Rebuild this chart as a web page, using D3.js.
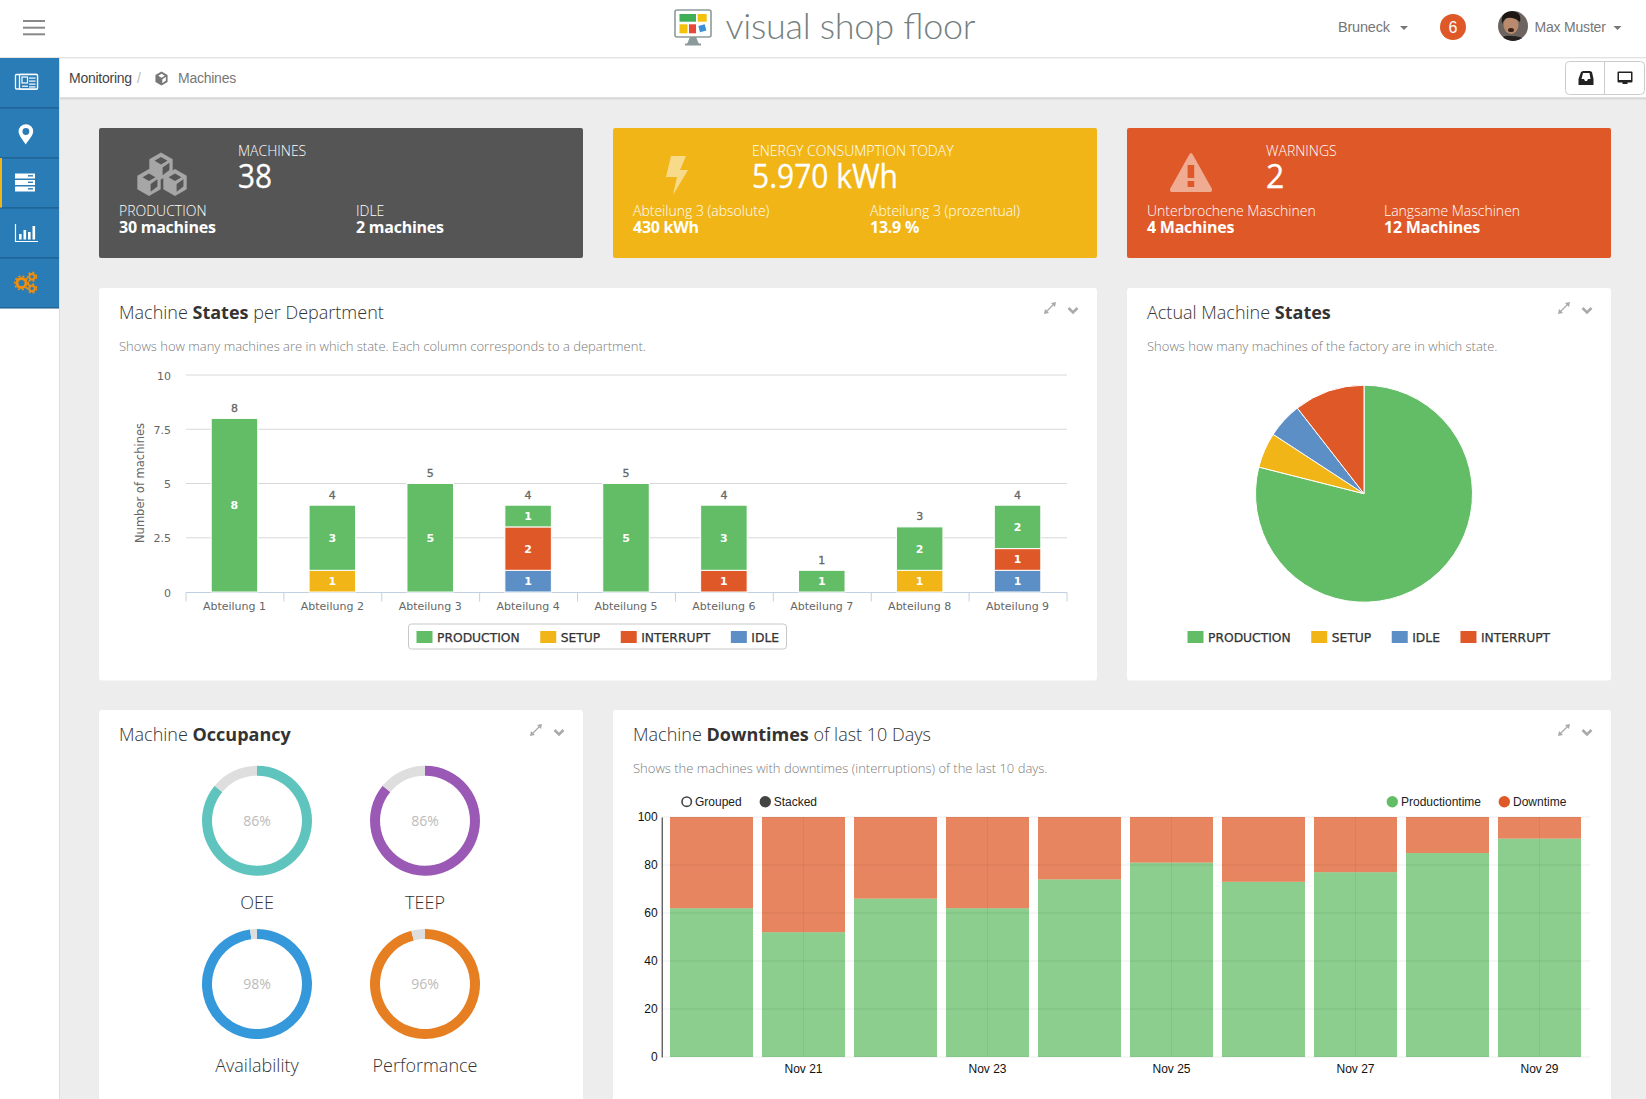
<!DOCTYPE html>
<html>
<head>
<meta charset="utf-8">
<title>visual shop floor</title>
<script src="https://cdnjs.cloudflare.com/ajax/libs/d3/7.8.5/d3.min.js"></script>
<style>
html, body { margin: 0; padding: 0; background: #ededed; overflow: hidden; }
svg { display: block; }
text { font-family: "Open Sans", sans-serif; }
</style>
</head>
<body>
<script>
// machine states per department
const departments = ["Abteilung 1", "Abteilung 2", "Abteilung 3", "Abteilung 4", "Abteilung 5", "Abteilung 6", "Abteilung 7", "Abteilung 8", "Abteilung 9"]
const production = [8, 3, 5, 1, 5, 3, 1, 2, 2]
const setup = [0, 1, 0, 0, 0, 0, 0, 1, 0]
const interrupt = [0, 0, 0, 2, 0, 1, 0, 0, 1]
const idle = [0, 0, 0, 1, 0, 0, 0, 0, 1]
const stateTicks = [0, 2.5, 5, 7.5, 10]

// actual machine states
const pieStates = ["PRODUCTION", "SETUP", "IDLE", "INTERRUPT"]
const pieValues = [30, 2, 2, 4]

// occupancy
const occupancyNames = ["OEE", "TEEP", "Availability", "Performance"]
const occupancyValues = [86, 86, 98, 96]

// downtimes
const days = ["Nov 20", "Nov 21", "Nov 22", "Nov 23", "Nov 24", "Nov 25", "Nov 26", "Nov 27", "Nov 28", "Nov 29"]
const productionTime = [62, 52, 66, 62, 74, 81, 73, 77, 85, 91]
const downTime = [38, 48, 34, 38, 26, 19, 27, 23, 15, 9]
const dayTicks = ["Nov 21", "Nov 23", "Nov 25", "Nov 27", "Nov 29"]
const percentTicks = [0, 20, 40, 60, 80, 100]

const colors = { PRODUCTION: "#62bd66", SETUP: "#f1b517", INTERRUPT: "#df5827", IDLE: "#5c8fc5" }
const occupancyColors = ["#5fc4bd", "#9b59b6", "#3498db", "#e67e22"]

const width = 1646
const height = 1099
const sansUi = '"Liberation Sans", Arial, sans-serif'
const chartFont = '"DejaVu Sans", sans-serif'

const svg = d3.select("body")
    .append("svg")
    .attr("width", width)
    .attr("height", height)

function label(g, x, y, str, size, fill, weight, anchor, family) {
    const t = g.append("text")
        .attr("x", x)
        .attr("y", y)
        .attr("font-size", size)
        .attr("fill", fill)
        .attr("font-weight", weight || 400)
        .attr("text-anchor", anchor || "start")
        .text(str)
    if (family) t.style("font-family", family)
    return t
}

function box(g, x, y, w, h, fill, r) {
    return g.append("rect").attr("x", x).attr("y", y).attr("width", w).attr("height", h)
        .attr("fill", fill).attr("rx", r || 0)
}

// isometric cube, used by the machines tile and the breadcrumb
function cube(g, cx, cy, r, body, inner) {
    const h = r * 0.866
    const pts = [[cx, cy - r], [cx + h, cy - r / 2], [cx + h, cy + r / 2], [cx, cy + r], [cx - h, cy + r / 2], [cx - h, cy - r / 2]]
    g.append("polygon").attr("points", pts.join(" ")).attr("fill", body)
    const k = 0.55
    g.append("polygon")
        .attr("points", [[cx, cy - r * k - r * 0.12], [cx + h * k, cy - r * k / 2 - r * 0.12], [cx, cy - r * 0.12], [cx - h * k, cy - r * k / 2 - r * 0.12]].join(" "))
        .attr("fill", inner)
    g.append("polygon")
        .attr("points", [[cx + r * 0.12, cy + r * 0.12], [cx + h * 0.72, cy - r * 0.24], [cx + h * 0.72, cy + r * 0.3], [cx + r * 0.12, cy + r * 0.68]].join(" "))
        .attr("fill", inner)
}

/* ---------- header ---------- */
const header = svg.append("g")
box(header, 0, 0, width, 57, "#fff")
box(header, 0, 57, width, 1.5, "#e3e3e3")
;[21, 27.7, 34.3].forEach(y => {
    header.append("line").attr("x1", 23).attr("x2", 45).attr("y1", y).attr("y2", y)
        .attr("stroke", "#888").attr("stroke-width", 2)
})

// logo
box(header, 675, 10, 36, 27, "#fff", 2).attr("stroke", "#8c9a9b").attr("stroke-width", 1.6)
box(header, 679.5, 14, 16.5, 7.7, "#3fae57")
box(header, 697.7, 14, 9, 7.7, "#f4c20d")
box(header, 679.5, 24.3, 8, 9, "#f4c20d")
box(header, 689, 24.3, 7, 9, "#e8483a")
box(header, 699, 25, 6.6, 6.6, "#3d8fd6").attr("transform", "rotate(-15 702 28)")
header.append("polygon").attr("points", "690,37 696,37 699,44 687,44").attr("fill", "#8c9a9b")
box(header, 685, 43.5, 16, 2, "#8c9a9b")
label(header, 725.5, 39.3, "visual shop floor", 36, "#75807f", 300, "start", "Lato, sans-serif")
    .attr("textLength", 250).attr("lengthAdjust", "spacing")

// right side of header
label(header, 1338, 32, "Bruneck", 14.5, "#777", 400, "start", sansUi).attr("letter-spacing", -0.2)
header.append("polygon").attr("points", "1400,26 1408,26 1404,30").attr("fill", "#777")
header.append("circle").attr("cx", 1453).attr("cy", 27).attr("r", 13).attr("fill", "#df5827")
label(header, 1453, 33, "6", 16, "#fff", 400, "middle", sansUi)
header.append("clipPath").attr("id", "avatar").append("circle").attr("cx", 1513).attr("cy", 26).attr("r", 15)
const avatar = header.append("g").attr("clip-path", "url(#avatar)")
box(avatar, 1498, 11, 30, 30, "#6d6460")
avatar.append("ellipse").attr("cx", 1511).attr("cy", 25).attr("rx", 7.5).attr("ry", 9).attr("fill", "#b98a6c")
avatar.append("path").attr("d", "M1502,24 Q1500,11 1512,11 Q1522,12 1520,22 Q1514,17 1507,18 Q1504,19 1502,24Z").attr("fill", "#1d1714")
avatar.append("ellipse").attr("cx", 1511).attr("cy", 30).attr("rx", 3).attr("ry", 2).attr("fill", "#3a2018")
avatar.append("path").attr("d", "M1499,41 Q1502,35 1511,36 Q1522,36 1526,41Z").attr("fill", "#26221f")
label(header, 1534.5, 31.5, "Max Muster", 14, "#777", 400, "start", sansUi).attr("letter-spacing", -0.2)
header.append("polygon").attr("points", "1613.5,26 1621.5,26 1617.5,30").attr("fill", "#777")

/* ---------- left rail ---------- */
const rail = svg.append("g")
box(rail, 0, 58, 59, height - 58, "#fff")
box(rail, 59, 58, 1, height - 58, "#dedede")
box(rail, 0, 58, 59, 250, "#2a7cb6")
;[107.3, 157.3, 207.3, 257.3, 307.3].forEach(y => box(rail, 0, y, 59, 1.2, "#1d5c8c"))
box(rail, 0, 158, 2, 49.5, "#f1b517")

// news icon
box(rail, 15.5, 74.5, 22, 14.5, "none", 1).attr("stroke", "#fff").attr("stroke-width", 1.3)
box(rail, 19.5, 74.5, 18, 14.5, "#2a7cb6", 1).attr("stroke", "#fff").attr("stroke-width", 1.3)
box(rail, 22, 77, 5.5, 6, "none").attr("stroke", "#fff").attr("stroke-width", 1.2)
;[77.5, 80.5, 83.5, 86.3].forEach(y => box(rail, 29, y, 6.5, 1.2, "#fff"))
box(rail, 22, 85.6, 6, 1.2, "#fff")
// pin icon
rail.append("path").attr("d", "M25.7,144.5 C23,140 18.6,135.5 18.6,131.5 A7.3,7.3 0 1 1 33.2,131.5 C33.2,135.5 28.4,140 25.7,144.5Z").attr("fill", "#fff")
rail.append("circle").attr("cx", 25.9).attr("cy", 131.5).attr("r", 3.4).attr("fill", "#2a7cb6")
// server icon
;[173.5, 180, 186.5].forEach(y => {
    box(rail, 15, y, 20, 5, "#fff")
    box(rail, 28, y + 1.6, 5, 1.4, "#2a7cb6")
})
// bar chart icon
rail.append("path").attr("d", "M15.5,224 V241.5 H38").attr("fill", "none").attr("stroke", "#fff").attr("stroke-width", 1.2)
;[[19, 234, 2.6], [23.5, 230, 2.6], [28, 232, 2.6], [32.5, 226, 2.6]].forEach(d => box(rail, d[0], d[1], d[2], 239.5 - d[1], "#fff"))
// gears icon
;[[21.5, 283, 4.6, 3], [32, 276.8, 2.7, 2], [32, 288.5, 2.7, 2]].forEach(g => {
    rail.append("circle").attr("cx", g[0]).attr("cy", g[1]).attr("r", g[2]).attr("fill", "none")
        .attr("stroke", "#f18f0a").attr("stroke-width", g[3])
    rail.append("circle").attr("cx", g[0]).attr("cy", g[1]).attr("r", g[2] + g[3] / 2 + 0.7).attr("fill", "none")
        .attr("stroke", "#f18f0a").attr("stroke-width", 1.6).attr("stroke-dasharray", "2 2.1")
})

/* ---------- breadcrumb ---------- */
const crumb = svg.append("g")
box(crumb, 60, 96, width - 60, 4, "#dcdcdc").attr("opacity", 0.6)
box(crumb, 60, 58.5, width - 60, 39, "#fff")
box(crumb, 60, 97.5, width - 60, 1, "#cfcfcf")
label(crumb, 69, 83, "Monitoring", 14, "#444", 400, "start", sansUi).attr("letter-spacing", -0.25)
label(crumb, 137, 83, "/", 14, "#bbb", 400, "start", sansUi)
cube(crumb, 161.5, 78.5, 7, "#777", "#fff")
label(crumb, 178, 83, "Machines", 14, "#777", 400, "start", sansUi).attr("letter-spacing", -0.25)
box(crumb, 1565.5, 61.5, 79, 33, "#fff", 4).attr("stroke", "#ccc")
crumb.append("line").attr("x1", 1604.5).attr("x2", 1604.5).attr("y1", 61.5).attr("y2", 94.5).attr("stroke", "#ccc")
crumb.append("path").attr("d", "M1581,72 L1583,71 H1590 L1592,72 L1593.5,79 V85 H1578.5 V79Z").attr("fill", "#222")
crumb.append("path").attr("d", "M1581.5,79 L1583,73 H1589.5 L1590.5,79 H1588 L1587,81 H1585 L1584,79Z").attr("fill", "#fff")
box(crumb, 1617.5, 71.5, 15, 11, "#222", 1)
box(crumb, 1619, 73, 12, 7, "#fff")
box(crumb, 1622.5, 82, 5, 2, "#222")

/* ---------- KPI tiles ---------- */
function kpiTile(x, fill, title, value, sub1, val1, sub2, val2) {
    const g = svg.append("g")
    box(g, x, 128, 484, 130, fill, 2)
    label(g, x + 139, 156, title, 14, "#fff", 300)
    g.value = label(g, x + 139, 188, value, 32, "#fff", 400).attr("stroke", "#fff").attr("stroke-width", 0.3)
    label(g, x + 20, 216, sub1, 14, "#fff", 300)
    label(g, x + 20, 233, val1, 16, "#fff", 700).attr("letter-spacing", -0.25)
    label(g, x + 257, 216, sub2, 14, "#fff", 300)
    label(g, x + 257, 233, val2, 16, "#fff", 700).attr("letter-spacing", -0.25)
    return g
}
const t1 = kpiTile(99, "#555555", "MACHINES", "38", "PRODUCTION", "30 machines", "IDLE", "2 machines")
t1.value.attr("textLength", 34).attr("lengthAdjust", "spacingAndGlyphs")
cube(t1, 161, 166, 13.5, "#a6a6a6", "#555")
cube(t1, 149, 182.5, 13.5, "#a6a6a6", "#555")
cube(t1, 175, 182.5, 13.5, "#a6a6a6", "#555")
const t2 = kpiTile(613, colors.SETUP, "ENERGY CONSUMPTION TODAY", "5.970 kWh", "Abteilung 3 (absolute)", "430 kWh", "Abteilung 3 (prozentual)", "13.9 %")
t2.value.attr("textLength", 146).attr("lengthAdjust", "spacingAndGlyphs")
t2.append("polygon").attr("points", "671,156 686,156 680,170 688,170 673,195 677,177 666,177").attr("fill", "#fff").attr("opacity", 0.5)
const t3 = kpiTile(1127, colors.INTERRUPT, "WARNINGS", "2", "Unterbrochene Maschinen", "4 Machines", "Langsame Maschinen", "12 Machines")
t3.append("path").attr("d", "M1191,153 Q1192,153 1193,155 L1212,189 Q1212.5,192 1210,192 H1172 Q1169.5,192 1170,189 L1189,155 Q1190,153 1191,153Z").attr("fill", "#fff").attr("opacity", 0.5)
box(t3, 1187.6, 165, 6.6, 13, colors.INTERRUPT)
box(t3, 1187.6, 181, 6.6, 6, colors.INTERRUPT)

/* ---------- cards ---------- */
function card(x, y, w, h, parts, sub) {
    const g = svg.append("g")
    box(g, x, y, w, h, "#fff", 3)
    const title = label(g, x + 20, y + 31, "", 18, "#333", 300)
    parts.forEach(p => title.append("tspan").attr("font-weight", p[1] ? 700 : 300).text(p[0]))
    if (sub) label(g, x + 20, y + 63, sub, 13, "#7a7a7a", 300)
    // expand and collapse icons
    const ex = x + w - 47, ey = y + 20
    g.append("path").attr("d", `M${ex - 4.5},${ey + 4.5} L${ex + 4.5},${ey - 4.5}`).attr("stroke", "#aaa").attr("stroke-width", 1.2)
    g.append("polygon").attr("points", `${ex + 6},${ey - 6} ${ex + 1},${ey - 5} ${ex + 5},${ey - 1}`).attr("fill", "#aaa")
    g.append("polygon").attr("points", `${ex - 6},${ey + 6} ${ex - 1},${ey + 5} ${ex - 5},${ey + 1}`).attr("fill", "#aaa")
    g.append("path").attr("d", `M${ex + 18.5},${ey} L${ex + 23},${ey + 4.5} L${ex + 27.5},${ey}`).attr("fill", "none")
        .attr("stroke", "#aaa").attr("stroke-width", 2.6)
    return g
}

// flowing legend, widths come from the text itself
function flowLegend(g, x, y, names, gap) {
    let cx = x
    names.forEach(n => {
        box(g, cx, y, 16, 12, colors[n])
        const t = label(g, cx + 20.5, y + 10.5, n, 12.3, "#333", 400, "start", chartFont)
            .attr("stroke", "#333").attr("stroke-width", 0.25)
        cx += 20.5 + t.node().getComputedTextLength() + gap
    })
    return cx - gap
}

/* ---------- machine states per department ---------- */
const c1 = card(99, 288, 998, 392.5, [["Machine "], ["States", true], [" per Department"]], "Shows how many machines are in which state. Each column corresponds to a department.")

const xState = d3.scaleBand().domain(departments).range([185.5, 1066.5]).paddingInner(0.525).paddingOuter(0.2625)
const yState = d3.scaleLinear().domain([0, 10]).range([592, 375])

c1.append("g").selectAll("line").data(stateTicks.slice(1)).enter().append("line")
    .attr("x1", 186).attr("x2", 1067)
    .attr("y1", d => yState(d)).attr("y2", d => yState(d))
    .attr("stroke", "#d8d8d8")

const stateAxisY = d3.axisLeft(yState).tickValues(stateTicks).tickSize(0).tickPadding(15).tickFormat(d => d)
c1.append("g").attr("transform", "translate(186,0.5)").call(stateAxisY)
    .call(a => a.select(".domain").remove())
    .selectAll("text").attr("font-size", 11).attr("fill", "#666").style("font-family", chartFont)

const stateAxisX = d3.axisBottom(xState).tickSize(0).tickPadding(10)
c1.append("g").attr("transform", "translate(0,592)").call(stateAxisX)
    .call(a => a.select(".domain").remove())
    .selectAll("text").attr("font-size", 11).attr("fill", "#666").style("font-family", chartFont)

// axis baseline and the ticks between the departments
c1.append("line").attr("x1", 186).attr("x2", 1067).attr("y1", 592.5).attr("y2", 592.5).attr("stroke", "#c0d0e0")
c1.append("g").selectAll("line").data(d3.range(departments.length + 1)).enter().append("line")
    .attr("x1", d => 186 + d * xState.step()).attr("x2", d => 186 + d * xState.step())
    .attr("y1", 592.5).attr("y2", 601.5)
    .attr("stroke", "#c0d0e0")

const stateRows = departments.map((d, i) => ({ dep: d, PRODUCTION: production[i], SETUP: setup[i], INTERRUPT: interrupt[i], IDLE: idle[i] }))
const stateStack = d3.stack().keys(["IDLE", "INTERRUPT", "SETUP", "PRODUCTION"])(stateRows)

const layers = c1.selectAll(".layer").data(stateStack).enter().append("g").attr("class", "layer").attr("fill", d => colors[d.key])
layers.selectAll("rect").data(d => d.filter(s => s[1] > s[0])).enter().append("rect")
    .attr("x", d => xState(d.data.dep))
    .attr("width", xState.bandwidth())
    .attr("y", d => yState(d[1]))
    .attr("height", d => yState(d[0]) - yState(d[1]))
    .attr("stroke", "#fff")
layers.selectAll("text").data(d => d.filter(s => s[1] > s[0])).enter().append("text")
    .attr("x", d => xState(d.data.dep) + xState.bandwidth() / 2)
    .attr("y", d => (yState(d[0]) + yState(d[1])) / 2 + 4)
    .attr("text-anchor", "middle")
    .attr("font-size", 11).attr("font-weight", 700).attr("fill", "#fff")
    .style("font-family", chartFont)
    .text(d => d[1] - d[0])
c1.append("g").selectAll("text").data(stateRows).enter().append("text")
    .attr("x", d => xState(d.dep) + xState.bandwidth() / 2)
    .attr("y", d => yState(d.PRODUCTION + d.SETUP + d.INTERRUPT + d.IDLE) - 6.5)
    .attr("text-anchor", "middle")
    .attr("font-size", 11).attr("fill", "#666").attr("stroke", "#666").attr("stroke-width", 0.3)
    .style("font-family", chartFont)
    .text(d => d.PRODUCTION + d.SETUP + d.INTERRUPT + d.IDLE)

label(c1, 0, 0, "Number of machines", 11.5, "#666", 400, "middle", chartFont)
    .attr("transform", "translate(144,483) rotate(-90)")

box(c1, 408.5, 624, 378, 25, "#fff", 3).attr("stroke", "#c8c8c8")
flowLegend(c1, 416.5, 631, ["PRODUCTION", "SETUP", "INTERRUPT", "IDLE"], 20.5)

/* ---------- actual machine states ---------- */
const c2 = card(1127, 288, 484, 392.5, [["Actual Machine "], ["States", true]], "Shows how many machines of the factory are in which state.")
const pie = d3.pie().sort(null)(pieValues)
const arcPie = d3.arc().innerRadius(0).outerRadius(108.5)
c2.append("g").attr("transform", "translate(1364,493.7)")
    .selectAll("path").data(pie).enter().append("path")
    .attr("d", arcPie)
    .attr("fill", (d, i) => colors[pieStates[i]])
    .attr("stroke", "#fff")
flowLegend(c2, 1187.5, 631, pieStates, 20.5)

/* ---------- machine occupancy ---------- */
const c3 = card(99, 710, 484, 400, [["Machine "], ["Occupancy", true]])
const xOcc = d3.scalePoint().domain([0, 1]).range([257, 425])
const yOcc = d3.scalePoint().domain([0, 1]).range([820.7, 984])
const arcOcc = d3.arc().innerRadius(45).outerRadius(55)
occupancyNames.forEach((name, i) => {
    const g = c3.append("g").attr("transform", `translate(${xOcc(i % 2)},${yOcc(Math.floor(i / 2))})`)
    const v = occupancyValues[i]
    g.selectAll("path").data(d3.pie().sort(null)([v, 100 - v])).enter().append("path")
        .attr("d", arcOcc)
        .attr("fill", (d, j) => j == 0 ? occupancyColors[i] : "#dedede")
    label(g, 0, 5, v + "%", 14, "#bbb", 400, "middle")
    label(g, 0, i < 2 ? 88.5 : 87.5, name, 18, "#333", 300, "middle")
})

/* ---------- machine downtimes ---------- */
const c4 = card(613, 710, 998, 400, [["Machine "], ["Downtimes", true], [" of last 10 Days"]], "Shows the machines with downtimes (interruptions) of the last 10 days.")

const xDay = d3.scaleBand().domain(days).range([665.5, 1585.5]).paddingInner(0.0978).paddingOuter(0.0489)
const yPct = d3.scaleLinear().domain([0, 100]).range([1057, 817])

const dayRows = days.map((d, i) => ({ day: d, prod: productionTime[i], down: downTime[i] }))
const dayStack = d3.stack().keys(["prod", "down"])(dayRows)
c4.selectAll(".day").data(dayStack).enter().append("g").attr("class", "day")
    .attr("fill", d => d.key == "prod" ? colors.PRODUCTION : colors.INTERRUPT)
    .attr("fill-opacity", d => d.key == "prod" ? 0.74 : 0.73)
    .selectAll("rect").data(d => d).enter().append("rect")
    .attr("x", d => xDay(d.data.day))
    .attr("width", xDay.bandwidth())
    .attr("y", d => yPct(d[1]))
    .attr("height", d => yPct(d[0]) - yPct(d[1]))

// grid is drawn translucent on top so it shows through the bars as in the original
c4.append("g").selectAll("line").data(percentTicks).enter().append("line")
    .attr("x1", 661.7).attr("x2", 1590)
    .attr("y1", d => yPct(d)).attr("y2", d => yPct(d))
    .attr("stroke", "#000").attr("stroke-opacity", 0.07)
c4.append("g").selectAll("line").data(dayTicks).enter().append("line")
    .attr("x1", d => xDay(d) + xDay.bandwidth() / 2).attr("x2", d => xDay(d) + xDay.bandwidth() / 2)
    .attr("y1", 817).attr("y2", 1057)
    .attr("stroke", "#000").attr("stroke-opacity", 0.05)

const pctAxis = d3.axisLeft(yPct).tickValues(percentTicks).tickSize(0).tickPadding(4)
c4.append("g").attr("transform", "translate(661.7,0)").call(pctAxis)
    .call(a => a.select(".domain").attr("stroke", "#222"))
    .selectAll("text").attr("font-size", 12).attr("fill", "#111").style("font-family", sansUi)

const dayAxis = d3.axisBottom(xDay).tickValues(dayTicks).tickSize(0).tickPadding(7)
c4.append("g").attr("transform", "translate(0,1057)").call(dayAxis)
    .call(a => a.select(".domain").remove())
    .selectAll("text").attr("font-size", 12).attr("fill", "#111").style("font-family", sansUi)

// legends of the chart
c4.append("circle").attr("cx", 686.7).attr("cy", 801.7).attr("r", 4.7).attr("fill", "#fff").attr("stroke", "#444").attr("stroke-width", 1.6)
label(c4, 695, 806, "Grouped", 12, "#222", 400, "start", sansUi)
c4.append("circle").attr("cx", 765.3).attr("cy", 801.7).attr("r", 5.7).attr("fill", "#444")
label(c4, 773.7, 806, "Stacked", 12, "#222", 400, "start", sansUi)
c4.append("circle").attr("cx", 1392.3).attr("cy", 801.7).attr("r", 5.7).attr("fill", colors.PRODUCTION)
label(c4, 1401, 806, "Productiontime", 12, "#222", 400, "start", sansUi)
c4.append("circle").attr("cx", 1504.3).attr("cy", 801.7).attr("r", 5.7).attr("fill", colors.INTERRUPT)
label(c4, 1513, 806, "Downtime", 12, "#222", 400, "start", sansUi)
</script>
</body>
</html>
